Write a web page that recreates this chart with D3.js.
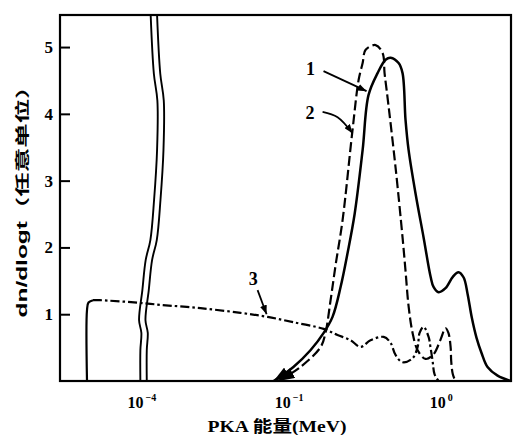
<!DOCTYPE html>
<html>
<head>
<meta charset="utf-8">
<title>PKA spectrum</title>
<script src="https://d3js.org/d3.v7.min.js"></script>
<style>
    body { margin: 0; background: #fff; }
    .tick text { font-family: "Liberation Serif", serif; font-weight: bold; font-size: 17px; }
    .curve { fill: none; stroke: #000; stroke-linejoin: round; }
</style>
</head>
<body>
<svg width="513" height="435"></svg>
<script>
// energies in MeV, values in arbitrary units

// curve 1 (solid)
const e1 = [0.088, 0.118, 0.152, 0.185, 0.211, 0.238, 0.264, 0.293, 0.330, 0.360,
            0.412, 0.464, 0.500, 0.563, 0.597, 0.624, 0.653, 0.725, 0.816, 0.906,
            0.946, 1.02, 1.13, 1.26, 1.37, 1.48, 1.57, 1.67, 1.79, 1.93,
            2.11, 2.45, 2.97];
const v1 = [0, 0.21, 0.46, 0.72, 0.96, 1.41, 1.92, 2.5, 3.46, 4.28,
            4.61, 4.81, 4.84, 4.76, 4.61, 3.91, 3.46, 2.8, 2.15, 1.56,
            1.41, 1.33, 1.39, 1.56, 1.63, 1.55, 1.3, 0.95, 0.65, 0.42,
            0.21, 0.08, 0];

// curve 2 (dashed)
const e2 = [0.0946, 0.131, 0.177, 0.190, 0.205, 0.221, 0.245, 0.284, 0.311, 0.330,
            0.345, 0.400, 0.444, 0.457, 0.478, 0.538, 0.597, 0.624, 0.653, 0.693,
            0.747, 0.840, 0.946, 1.05, 1.13, 1.18, 1.22, 1.23, 1.26, 1.31];
const v2 = [0, 0.21, 0.51, 0.72, 1.21, 1.74, 2.41, 3.76, 4.51, 4.76,
            4.96, 5.03, 4.91, 4.61, 4.24, 3.2, 2.15, 1.65, 1.12, 0.72,
            0.46, 0.33, 0.4, 0.62, 0.79, 0.72, 0.5, 0.3, 0.1, 0];

// curve 3 (dash-dot), first points are the solid step up
const e3 = [4.90e-5, 4.90e-5, 5.01e-5, 5.36e-5, 5.94e-5, 1.08e-4, 0.0164, 0.0297, 0.0538, 0.0804,
            0.118, 0.185, 0.227, 0.276, 0.320, 0.371, 0.451, 0.500, 0.538, 0.597,
            0.693, 0.747, 0.769, 0.816, 0.879, 0.905, 0.933, 0.961, 1.02];
const v3 = [0, 1.06, 1.175, 1.21, 1.21, 1.17, 1.14, 1.09, 1.02, 0.96,
            0.88, 0.78, 0.69, 0.61, 0.51, 0.61, 0.66, 0.57, 0.39, 0.28,
            0.34, 0.51, 0.72, 0.81, 0.66, 0.5, 0.3, 0.1, 0];
const solidPart3 = 4;

// ticks
const yTicks = [1, 2, 3, 4, 5];
const xTicks = [1e-4, 1e-1, 1];
const xTickExp = ['\u22124', '\u22121', '0'];

// curve labels and their leader lines
const curveNames = ['1', '2', '3'];
const nameE = [0.152, 0.151, 0.0649];
const nameV = [4.58, 3.92, 1.44];
const leaderE = [[0.1846, 0.3499], [0.182, 0.2274, 0.284], [0.0693, 0.0792]];
const leaderV = [[4.64, 4.34], [4.03, 3.95, 3.71], [1.36, 1.0]];

const yTitle = 'dn/dlogt\uff08任意单位\uff09';
const xTitle = 'PKA 能量(MeV)';

const svg = d3.select('svg');
const margin = { top: 15, left: 60 };
const innerW = 451;
const innerH = 366;

const g = svg.append('g')
    .attr('transform', `translate(${margin.left},${margin.top})`);

// broken log axis: the decades between the two wavy lines are cut out
const pxPerDecade = 155;
const logMin = -4.484, breakLo = -3.89, breakHi = -1.84;
const breakPx = (breakLo - logMin) * pxPerDecade;
const logMax = breakHi + (innerW - breakPx) / pxPerDecade;

const x = d3.scaleLinear()
    .domain([logMin, breakLo, breakHi, logMax])
    .range([0, breakPx, breakPx, innerW]);
const xE = e => x(Math.log10(e));

const y = d3.scaleLinear()
    .domain([0, 5.48])
    .range([innerH, 0]);

const defs = svg.append('defs');
defs.append('marker')
    .attr('id', 'tip')
    .attr('markerUnits', 'userSpaceOnUse')
    .attr('markerWidth', 9).attr('markerHeight', 7)
    .attr('refX', 9).attr('refY', 3.5)
    .attr('orient', 'auto')
    .append('path').attr('d', 'M0,0 L9,3.5 L0,7 z').attr('fill', '#000');
defs.append('marker')
    .attr('id', 'start')
    .attr('markerUnits', 'userSpaceOnUse')
    .attr('markerWidth', 16).attr('markerHeight', 11)
    .attr('refX', 16).attr('refY', 5.5)
    .attr('orient', 'auto-start-reverse')
    .append('path').attr('d', 'M0,0 L16,5.5 L0,11 z').attr('fill', '#000');

// frame
g.append('rect')
    .attr('width', innerW).attr('height', innerH)
    .attr('fill', 'none').attr('stroke', '#000').attr('stroke-width', 2.2);

// y axis, ticks pointing inward
const yAxis = d3.axisLeft(y)
    .tickValues(yTicks)
    .tickFormat(d3.format('d'))
    .tickSizeInner(-10)
    .tickSizeOuter(0)
    .tickPadding(7);
const yAxisG = g.append('g').call(yAxis);
yAxisG.select('.domain').remove();
yAxisG.selectAll('.tick line').attr('stroke-width', 2);

// x tick labels as powers of ten
const xAxisG = g.append('g')
    .attr('transform', `translate(0,${innerH})`)
    .call(d3.axisBottom(x)
        .tickValues(xTicks.map(Math.log10))
        .tickSize(0)
        .tickFormat(''));
xAxisG.select('.domain').remove();
xAxisG.selectAll('.tick text')
    .attr('y', 27).attr('dy', 0)
    .attr('x', -8)
    .attr('text-anchor', 'start')
    .style('font-size', '16px')
    .each(function (d, i) {
        const t = d3.select(this);
        t.append('tspan').text('10');
        t.append('tspan')
            .attr('dx', 2).attr('dy', -7)
            .style('font-size', '10px')
            .text(xTickExp[i]);
    });

// curves
const line = d3.line()
    .x(d => xE(d[0]))
    .y(d => y(d[1]))
    .curve(d3.curveCatmullRom.alpha(0.5));

const pts1 = d3.zip(e1, v1);
const pts2 = d3.zip(e2, v2);
const pts3 = d3.zip(e3, v3);

g.append('path')
    .attr('class', 'curve')
    .attr('d', line(pts3.slice(0, solidPart3)))
    .attr('stroke-width', 2.2);
g.append('path')
    .attr('class', 'curve')
    .attr('d', line(pts3.slice(solidPart3 - 1)))
    .attr('stroke-width', 2.2)
    .attr('stroke-dasharray', '9,3,2.5,3');

g.append('path')
    .attr('class', 'curve')
    .attr('d', line(pts2))
    .attr('stroke-width', 2.2)
    .attr('stroke-dasharray', '10,4')
    .attr('marker-start', 'url(#start)');

g.append('path')
    .attr('class', 'curve')
    .attr('d', line(pts1))
    .attr('stroke-width', 2.5)
    .attr('marker-start', 'url(#start)');

// axis break: two parallel wavy lines across the whole plot height
const breakWave = [[5.48, 1.8], [4.6, 5], [4.2, 8.5], [3.46, 8.2], [2.71, 5.2], [2.11, 1.5],
                   [1.81, -3.2], [1.36, -6.5], [0.91, -9.8], [0.72, -7.5], [0.46, -8.5], [0, -8.5]];
const waveLine = d3.line()
    .x(d => breakPx + d[1])
    .y(d => y(d[0]))
    .curve(d3.curveCatmullRom);
[-3.2, 3.2].forEach(off => {
    g.append('path')
        .attr('class', 'curve')
        .attr('d', waveLine(breakWave.map(d => [d[0], d[1] + off])))
        .attr('stroke-width', 1.9);
});

// curve names with arrows
curveNames.forEach((name, i) => {
    g.append('text')
        .attr('x', xE(nameE[i]))
        .attr('y', y(nameV[i]))
        .attr('text-anchor', 'middle')
        .style('font-family', '"Liberation Serif", serif')
        .style('font-weight', 'bold')
        .style('font-size', '18px')
        .text(name);
    g.append('path')
        .attr('class', 'curve')
        .attr('d', line(d3.zip(leaderE[i], leaderV[i])))
        .attr('stroke-width', 1.8)
        .attr('marker-end', 'url(#tip)');
});

// axis titles
svg.append('text')
    .attr('transform', `translate(27,${margin.top + innerH / 2 - 2}) rotate(-90)`)
    .attr('text-anchor', 'middle')
    .attr('textLength', 243)
    .attr('lengthAdjust', 'spacingAndGlyphs')
    .style('font-family', '"Liberation Sans", "Noto Sans CJK SC", sans-serif')
    .style('font-weight', 'bold')
    .style('font-size', '14px')
    .text(yTitle);

svg.append('text')
    .attr('x', margin.left + 217)
    .attr('y', 432)
    .attr('text-anchor', 'middle')
    .attr('textLength', 139)
    .attr('lengthAdjust', 'spacingAndGlyphs')
    .style('font-family', '"Liberation Serif", "Noto Sans CJK SC", serif')
    .style('font-weight', 'bold')
    .style('font-size', '16px')
    .text(xTitle);
</script>
</body>
</html>
